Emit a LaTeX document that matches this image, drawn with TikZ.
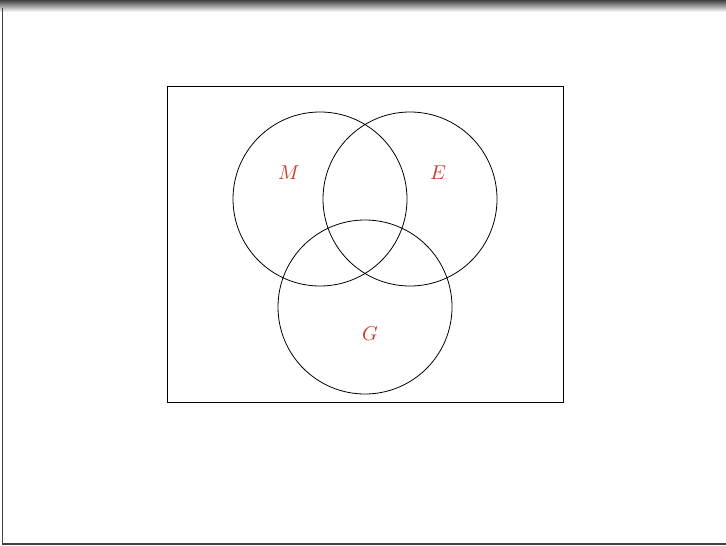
\documentclass[tikz,border=0pt]{standalone}
\begin{document}
\begin{tikzpicture}[x=0.5pt,y=-0.5pt,
  setc/.style={draw=black,line width=0.4pt},
  lbl/.style={text=lblred,font=\normalsize},
  ]
\definecolor{lblred}{RGB}{200,60,40}
\useasboundingbox (0,0) rectangle (726,545);
\fill[white] (0,0) rectangle (726,545);
% slide frame
\shade[top color=black!75,bottom color=white] (0,0) rectangle (726,12);
\draw[black!75,line width=0.8pt] (2.5,8) -- (2.5,544) -- (726,544);
% universe box
\node[setc,minimum width=198pt,minimum height=158pt,inner sep=0pt] (U) at (365,244) {};
% circles
\node[setc,circle,minimum size=87pt,inner sep=0pt] (M) at (320,199) {};
\node[setc,circle,minimum size=87pt,inner sep=0pt] (E) at (410,199) {};
\node[setc,circle,minimum size=87pt,inner sep=0pt] (G) at (365,307) {};
% labels
\node[lbl] (lM) at (289,173) {$M$};
\node[lbl] (lE) at (438,173) {$E$};
\node[lbl] (lG) at (370,334) {$G$};
\end{tikzpicture}
\end{document}
